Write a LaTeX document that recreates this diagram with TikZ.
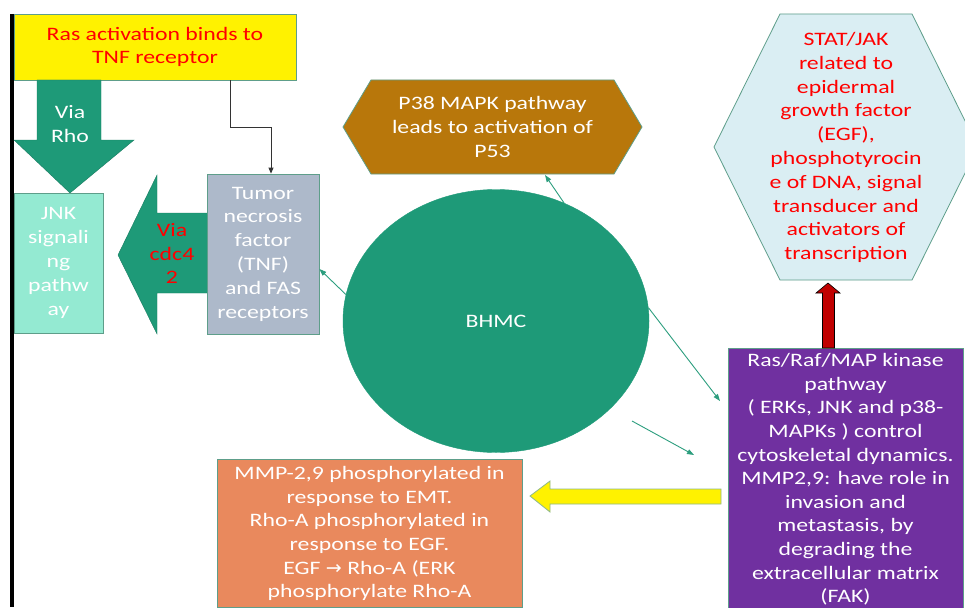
\documentclass[tikz,border=0pt]{standalone}
\usepackage{fontspec}
\setmainfont{Carlito}[FakeStretch=1.25]
\newfontfamily\arrowfont{DejaVu Sans}
\usetikzlibrary{shapes.geometric,arrows.meta}
\definecolor{tealg}{HTML}{1E9A78}
\definecolor{jnkc}{HTML}{94EAD2}
\definecolor{tnfc}{HTML}{ADB9CA}
\definecolor{p38c}{HTML}{B8770B}
\definecolor{statc}{HTML}{DAEEF3}
\definecolor{rasc}{HTML}{7030A0}
\definecolor{mmpc}{HTML}{E9895D}
\definecolor{bord}{HTML}{5E9E8A}
\definecolor{connc}{HTML}{2C9E7E}
\definecolor{redt}{HTML}{FF0000}
\definecolor{darkred}{HTML}{C00000}
\definecolor{ylwbord}{HTML}{8CB88C}
\tikzset{
  box/.style={draw=bord, line width=0.8pt, inner sep=0pt, align=center},
  txt/.style={font=\fontsize{19}{23.8}\selectfont, align=center, inner sep=0pt},
  conn/.style={draw=connc, line width=0.9pt, -{Triangle[length=7pt,width=5pt]}},
  blackconn/.style={draw=black!80, line width=0.8pt, -{Triangle[length=6pt,width=5pt]}},
  shapearrow/.style={fill=tealg, draw=tealg!80!black, line width=0.4pt}
}
\begin{document}
\begin{tikzpicture}[x=1pt,y=-1pt]
\useasboundingbox (0,0) rectangle (965,607);
\clip (0,0) rectangle (965,607);
\fill[white] (0,0) rectangle (965,607);

% left black line
\draw[line width=3.5pt, black] (12,14) -- (12,607);

% yellow box
\node[box, fill=yellow, minimum width=282, minimum height=66, txt, text=redt] (yel) at (155,47)
  {Ras activation binds to\\TNF receptor};

% Via Rho arrow
\path[shapearrow] (37,80) -- (101,80) -- (101,140) -- (134,140) -- (70,193) -- (14,140) -- (37,140) -- cycle;
\node[txt, text=white] (rho) at (70,124) {Via\\Rho};

% JNK box
\node[box, fill=jnkc, minimum width=89, minimum height=140, txt, text=white] (jnk) at (58.5,263)
  {JNK\\signali\\ng\\pathw\\ay};

% Via cdc42 arrow
\path[shapearrow] (208,213) -- (157,213) -- (157,175) -- (118,255) -- (157,334) -- (157,293) -- (208,293) -- cycle;
\node[txt, text=redt] (cdc) at (172,253.5) {Via\\cdc4\\2};

% TNF box
\node[box, fill=tnfc, minimum width=112, minimum height=160, txt, text=white] (tnf) at (263,254)
  {Tumor\\necrosis\\factor\\(TNF)\\and FAS\\receptors};

% black connector yellow -> TNF
\draw[blackconn] (yel.south -| 230,0) -- (230,127) -- (271,127) -- (tnf.north -| 271,0);

% P38 hexagon
\filldraw[fill=p38c, draw=bord, line width=0.8pt] (343,127) -- (371,80) -- (614,80) -- (642,127) -- (614,174) -- (371,174) -- cycle;
\node[txt, text=white] (p38) at (492.5,127) {P38 MAPK pathway\\leads to activation of\\P53};
\coordinate (p38s) at (545,175);

% STAT hexagon
\filldraw[fill=statc, draw=bord, line width=0.8pt] (714,147) -- (780,14) -- (912,14) -- (978,147) -- (912,280) -- (780,280) -- cycle;
\node[txt, text=redt] (stat) at (846,147.5)
  {STAT/JAK\\related to\\epidermal\\growth factor\\(EGF),\\phosphotyrocin\\e of DNA, signal\\transducer and\\activators of\\transcription};

% BHMC ellipse
\node[ellipse, fill=tealg, draw=tealg, minimum width=306, minimum height=263, inner sep=0pt,
      txt, text=white] (bh) at (496,321) {BHMC};

% Ras box
\node[box, fill=rasc, minimum width=235, anchor=north, font=\fontsize{19}{23.6}\selectfont, align=center, text=white, inner xsep=0pt, inner ysep=5pt] (ras) at (845.5,348)
  {Ras/Raf/MAP kinase\\pathway\\( ERKs, JNK and p38-\\MAPKs ) control\\cytoskeletal dynamics.\\MMP2,9: have role in\\invasion and\\metastasis, by\\degrading the\\extracellular matrix\\(FAK)};

% red arrow Ras -> STAT
\filldraw[fill=darkred, draw=black, line width=0.6pt]
  (828,283) -- (840,293) -- (834.5,293) -- (834.5,348) -- (822.5,348) -- (822.5,293) -- (816,293) -- cycle;

% MMP box
\node[box, fill=mmpc, minimum width=305, anchor=north, font=\fontsize{19}{23.6}\selectfont, align=center, text=white, inner xsep=0pt, inner ysep=7pt] (mmp) at (369.5,459)
  {MMP-2,9 phosphorylated in\\response to EMT.\\Rho-A phosphorylated in\\response to EGF.\\EGF {\arrowfont →} Rho-A (ERK\\phosphorylate Rho-A};

% yellow arrow Ras -> MMP
\filldraw[fill=yellow, draw=ylwbord, line width=0.8pt]
  (530,496) -- (550,481) -- (550,489) -- (721,489) -- (721,504) -- (550,504) -- (550,512) -- cycle;

% thin connectors
\draw[conn] (bh.170) -- ([yshift=-15pt]tnf.east);
\draw[conn] (bh.60) -- (p38s);
\coordinate (r1) at (720,401);
\draw[conn] (bh.5) -- (r1);
\coordinate (a4s) at (632,421);
\coordinate (a4e) at (694,455);
\draw[conn] (a4s) -- (a4e);
\end{tikzpicture}
\end{document}
